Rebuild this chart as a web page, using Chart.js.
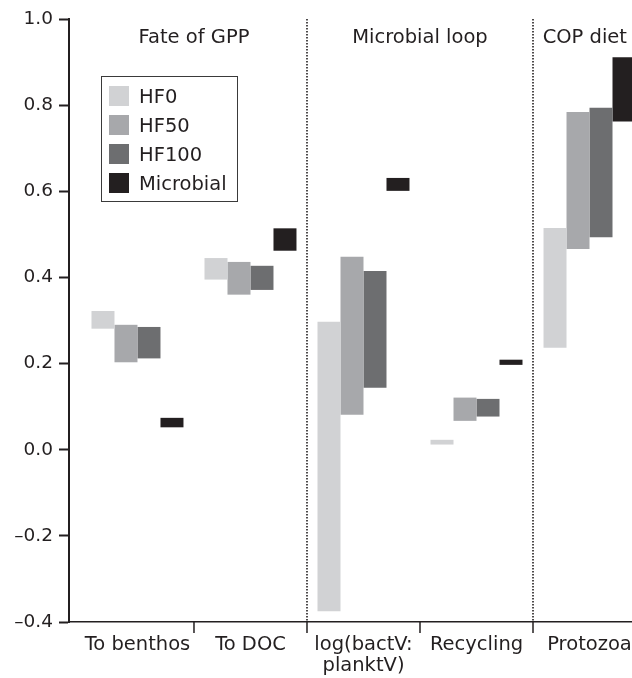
<!DOCTYPE html>
<html>
<head>
<meta charset="utf-8">
<script src="https://cdn.jsdelivr.net/npm/chart.js@4.4.1/dist/chart.umd.min.js"></script>
<style>
  html, body { margin: 0; padding: 0; background: #fff; overflow: hidden; }
  canvas { display: block; }
</style>
</head>
<body>
<canvas id="c" width="632" height="678"></canvas>
<script>
// Categories along the x axis (multi-line label given as an array)
const categories = ['To benthos', 'To DOC', ['log(bactV:', 'planktV)'], 'Recycling', 'Protozoa'];
const seriesNames = ['HF0', 'HF50', 'HF100', 'Microbial'];

// Ranges [low, high] for each category
const hf0       = [[0.281, 0.322], [0.395, 0.445], [-0.375, 0.297], [0.012, 0.023], [0.237, 0.515]];
const hf50      = [[0.203, 0.290], [0.360, 0.436], [0.081, 0.448],  [0.067, 0.121], [0.466, 0.784]];
const hf100     = [[0.212, 0.285], [0.371, 0.427], [0.144, 0.415],  [0.077, 0.118], [0.493, 0.794]];
const microbial = [[0.052, 0.074], [0.462, 0.514], [0.601, 0.631],  [0.197, 0.209], [0.762, 0.911]];

const yTicks = [-0.4, -0.2, 0.0, 0.2, 0.4, 0.6, 0.8, 1.0];

// Sections spanning groups of categories
const sectionTitles = ['Fate of GPP', 'Microbial loop', 'COP diet'];
const sectionFirst  = [0, 2, 4];
const sectionLast   = [1, 3, 4];

const seriesColors = ['#d1d2d4', '#a7a8ab', '#6d6e70', '#231f20'];
const INK = '#231f20';
const FAMILY = '"DejaVu Sans", sans-serif';
const SIZE = 19.5;
const TICK_SIZE = 18.5;

const seriesValues = [hf0, hf50, hf100, microbial];
const datasets = seriesValues.map((vals, k) => ({
  label: seriesNames[k],
  data: vals.map((r, i) => ({ x: i, y: r })),
  backgroundColor: seriesColors[k],
  borderWidth: 0,
  categoryPercentage: 0.814,
  barPercentage: 1.0
}));

// Separators, between-category tick marks, section titles and the legend box
const decorations = {
  id: 'decorations',
  afterDraw(chart) {
    const { ctx, chartArea: a, scales: { x, y } } = chart;
    ctx.save();
    ctx.strokeStyle = INK;

    ctx.lineWidth = 1.5;
    for (let i = 0; i < categories.length - 1; i++) {
      const px = x.getPixelForValue(i + 0.5);
      ctx.beginPath();
      ctx.moveTo(px, a.bottom);
      ctx.lineTo(px, a.bottom + 11);
      ctx.stroke();
    }

    ctx.setLineDash([1.5, 1.5]);
    ctx.lineWidth = 1.6;
    const topPx = y.getPixelForValue(yTicks[yTicks.length - 1]);
    for (let s = 1; s < sectionFirst.length; s++) {
      const px = x.getPixelForValue(sectionFirst[s] - 0.5);
      ctx.beginPath();
      ctx.moveTo(px, topPx);
      ctx.lineTo(px, a.bottom);
      ctx.stroke();
    }
    ctx.setLineDash([]);

    // section titles, kept inside the plot on the right
    ctx.font = `${SIZE}px ${FAMILY}`;
    ctx.fillStyle = INK;
    ctx.textAlign = 'center';
    ctx.textBaseline = 'alphabetic';
    sectionTitles.forEach((t, s) => {
      const w = ctx.measureText(t).width;
      let cx = x.getPixelForValue((sectionFirst[s] + sectionLast[s]) / 2);
      cx = Math.min(cx, a.right - 5 - w / 2);
      ctx.fillText(t, cx, a.top + 24);
    });

    // legend
    const bx = a.left + 32, by = a.top + 57, bw = 136, bh = 125;
    ctx.lineWidth = 1;
    ctx.strokeStyle = '#3a3a3a';
    ctx.strokeRect(bx + 0.5, by + 0.5, bw, bh);
    ctx.textAlign = 'left';
    chart.data.datasets.forEach((ds, k) => {
      const rowTop = by + 10 + k * 29;
      ctx.fillStyle = ds.backgroundColor;
      ctx.fillRect(bx + 8, rowTop, 20, 20);
      ctx.fillStyle = INK;
      ctx.fillText(ds.label, bx + 38, rowTop + 17);
    });
    ctx.restore();
  }
};

new Chart(document.getElementById('c'), {
  type: 'bar',
  data: { datasets },
  options: {
    responsive: false,
    animation: false,
    layout: { padding: { top: 19, left: 0, right: 0, bottom: 0 } },
    plugins: { legend: { display: false }, tooltip: { enabled: false } },
    scales: {
      x: {
        type: 'linear',
        offset: false,
        min: -0.606,
        max: 4.376,
        afterBuildTicks: s => { s.ticks = categories.map((_, i) => ({ value: i })); },
        afterFit: s => { s.height = 56; s.paddingLeft = 0; s.paddingRight = 0; },
        grid: { display: true, offset: false, drawOnChartArea: false, drawTicks: false },
        border: { display: true, color: INK, width: 1.5 },
        ticks: {
          autoSkip: false,
          maxRotation: 0,
          minRotation: 0,
          padding: 13,
          color: INK,
          font: { family: FAMILY, size: SIZE, lineHeight: 1.05 },
          callback: v => categories[Math.round(v)]
        }
      },
      y: {
        type: 'linear',
        min: yTicks[0],
        max: yTicks[yTicks.length - 1],
        afterBuildTicks: s => { s.ticks = yTicks.map(v => ({ value: v })); },
        afterFit: s => { s.width = 69; },
        grid: { display: true, drawOnChartArea: false, drawTicks: true, tickLength: 10, tickWidth: 2, tickColor: INK },
        border: { display: true, color: INK, width: 2 },
        ticks: {
          padding: 6,
          color: INK,
          font: { family: FAMILY, size: TICK_SIZE },
          callback: v => v.toFixed(1).replace('-', '\u2013')
        }
      }
    }
  },
  plugins: [decorations]
});
</script>
</body>
</html>
